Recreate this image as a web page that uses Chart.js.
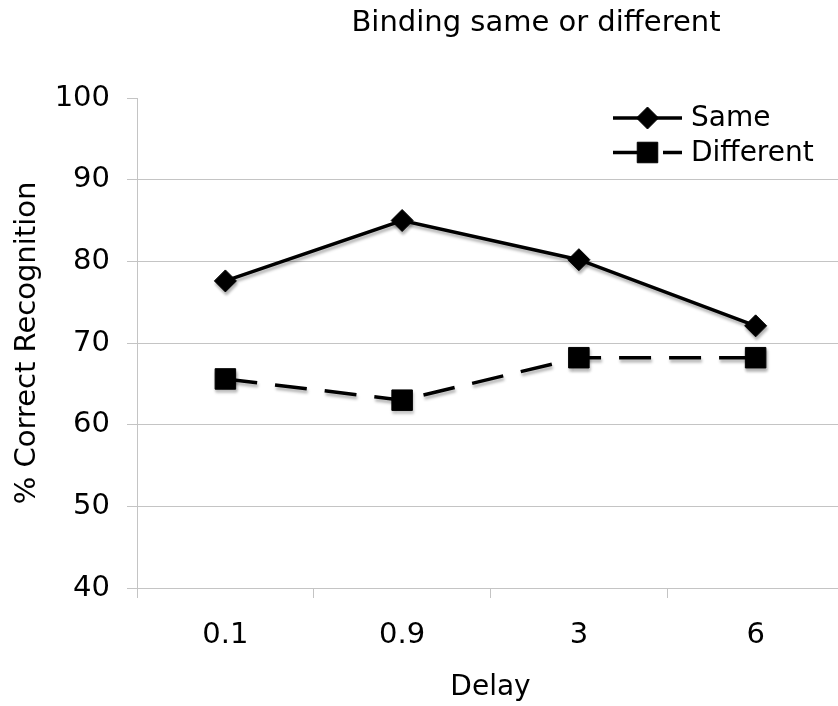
<!DOCTYPE html>
<html>
<head>
<meta charset="utf-8">
<title>Binding same or different</title>
<script src="https://cdn.jsdelivr.net/npm/chart.js@4.4.0/dist/chart.umd.min.js"></script>
<style>
  html, body { margin: 0; padding: 0; background: #fff; overflow: hidden; }
  #wrap { width: 844px; height: 706px; }
</style>
</head>
<body>
<div id="wrap"><canvas id="grafico" width="844" height="706"></canvas></div>
<script>
// datos
const delays = ['0.1', '0.9', '3', '6'];
const sameValues = [77.6, 85.0, 80.2, 72.1];
const differentValues = [65.6, 63.0, 68.2, 68.2];
const yTicks = [40, 50, 60, 70, 80, 90, 100];

const titulo = 'Binding same or different';
const FONT = '"DejaVu Sans", Verdana, sans-serif';
const gris = '#c4c4c4';

// titulo centrado sobre la zona del grafico, como en el original
const tituloPlugin = {
    id: 'tituloPlugin',
    afterDraw(chart) {
        const ctx = chart.ctx;
        ctx.save();
        ctx.font = '29px ' + FONT;
        ctx.fillStyle = '#000';
        ctx.textAlign = 'center';
        ctx.textBaseline = 'alphabetic';
        ctx.fillText(titulo, 536, 31);
        ctx.restore();
    }
};

// sombra suave bajo lineas y marcadores
const sombraPlugin = {
    id: 'sombraPlugin',
    beforeDatasetsDraw(chart) {
        const ctx = chart.ctx;
        ctx.save();
        ctx.shadowColor = 'rgba(0,0,0,0.3)';
        ctx.shadowOffsetX = 1;
        ctx.shadowOffsetY = 3;
        ctx.shadowBlur = 3;
    },
    afterDatasetsDraw(chart) {
        chart.ctx.restore();
    }
};

// leyenda con linea + marcador dentro del area
const leyendaPlugin = {
    id: 'leyendaPlugin',
    afterDraw(chart) {
        const ctx = chart.ctx;
        const filas = [118, 152.5];
        chart.data.datasets.forEach((ds, i) => {
            const y = filas[i];
            ctx.save();
            ctx.strokeStyle = ds.borderColor;
            ctx.lineWidth = ds.borderWidth;
            ctx.setLineDash(ds.borderDash || []);
            ctx.beginPath();
            ctx.moveTo(613, y);
            ctx.lineTo(682, y);
            ctx.stroke();
            ctx.setLineDash([]);
            ctx.fillStyle = ds.pointBackgroundColor;
            ctx.strokeStyle = ds.pointBorderColor;
            ctx.lineWidth = 1;
            Chart.helpers.drawPoint(ctx, { pointStyle: ds.pointStyle, radius: ds.pointRadius, rotation: 0, borderWidth: 1 }, 647.5, y);
            ctx.fillStyle = '#000';
            ctx.font = '28px ' + FONT;
            ctx.textAlign = 'left';
            ctx.textBaseline = 'middle';
            ctx.fillText(ds.label, 691, y + 1);
            ctx.restore();
        });
    }
};

const ctx = document.getElementById('grafico').getContext('2d');

new Chart(ctx, {
    type: 'line',
    data: {
        labels: delays,
        datasets: [
            {
                label: 'Same',
                data: sameValues,
                borderColor: '#000',
                borderWidth: 3.5,
                pointStyle: 'rectRot',
                pointRadius: 11,
                pointBackgroundColor: '#000',
                pointBorderColor: '#000',
                pointBorderWidth: 1,
                tension: 0
            },
            {
                label: 'Different',
                data: differentValues,
                borderColor: '#000',
                borderWidth: 3.5,
                borderDash: [32, 18],
                pointStyle: 'rect',
                pointRadius: 14.5,
                pointBackgroundColor: '#000',
                pointBorderColor: '#000',
                pointBorderWidth: 1,
                tension: 0
            }
        ]
    },
    options: {
        responsive: false,
        animation: false,
        layout: { autoPadding: false, padding: { top: 98, left: 0, right: 0, bottom: 0 } },
        plugins: {
            legend: { display: false },
            title: { display: false },
            tooltip: { enabled: false }
        },
        scales: {
            x: {
                offset: true,
                grid: {
                    offset: true,
                    drawOnChartArea: false,
                    tickLength: 10,
                    color: gris
                },
                border: { color: gris },
                ticks: {
                    color: '#000',
                    padding: 20,
                    font: { family: FONT, size: 29 }
                },
                title: {
                    display: true,
                    text: 'Delay',
                    color: '#000',
                    padding: { top: 0, bottom: 1 },
                    font: { family: FONT, size: 28 }
                },
                afterFit: s => {
                    s.height = 118;
                    s.paddingLeft = 0;
                    s.paddingRight = 0;
                }
            },
            y: {
                min: 40,
                max: 100,
                afterBuildTicks: s => { s.ticks = yTicks.map(v => ({ value: v })); },
                grid: {
                    color: c => (c.tick && c.tick.value === 100 ? 'rgba(0,0,0,0)' : gris),
                    tickColor: gris,
                    tickLength: 10
                },
                border: { color: gris },
                ticks: {
                    color: '#000',
                    padding: 17,
                    font: { family: FONT, size: 29 }
                },
                title: {
                    display: true,
                    text: '% Correct Recognition',
                    color: '#000',
                    padding: { top: 10, bottom: 0 },
                    font: { family: FONT, size: 29 }
                },
                afterFit: s => { s.width = 137; }
            }
        }
    },
    plugins: [tituloPlugin, sombraPlugin, leyendaPlugin]
});
</script>
</body>
</html>
